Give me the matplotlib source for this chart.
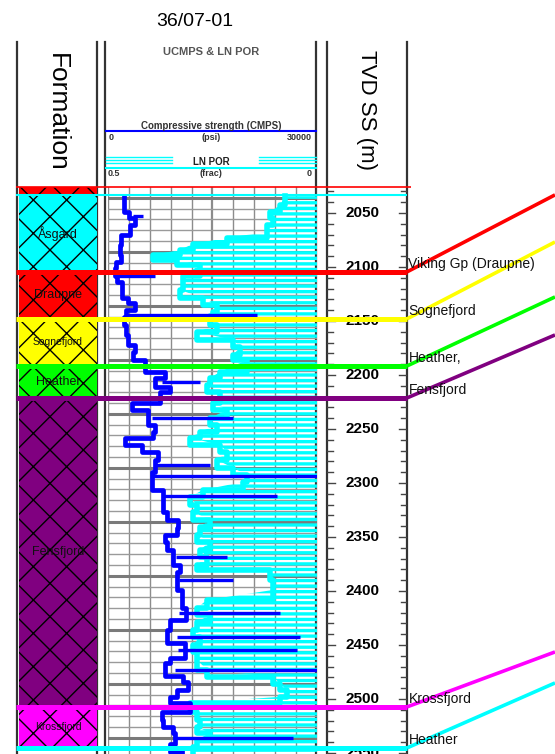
import numpy as np
import matplotlib.pyplot as plt

W, H = 555, 754
BODY_TOP = 187   # pixel row where the log body starts

# depth window of the log body (TVD SS, m)
depth_top = 2026.0
depth_base = 2551.0

# formation column
form_names = ['', 'Åsgard', 'Draupne', 'Sognefjord', 'Heather', 'Fensfjord', 'Krossfjord']
form_tops = [2025.9, 2033.3, 2104.6, 2148.1, 2191.7, 2221.3, 2507.4]
form_bases = [2033.3, 2104.6, 2148.1, 2191.7, 2221.3, 2507.4, 2545.4]
form_colors = ['#ff0000', '#00ffff', '#ff0000', '#ffff00', '#00ff00', '#800080', '#ff00ff']

# picked tops and where they tie in on the next well
top_names = ['Viking Gp (Draupne)', 'Sognefjord', 'Heather,', 'Fensfjord', 'Krossfjord', 'Heather']
top_depths = [2104.6, 2148.1, 2191.7, 2221.3, 2507.4, 2545.4]
top_next = [2033.3, 2076.9, 2127.8, 2163.0, 2456.5, 2485.2]
top_colors = ['#ff0000', '#ffff00', '#00ff00', '#800080', '#ff00ff', '#00ffff']

# UCMPS curve (psi)
ucmps_depth = [2034.5, 2042.6, 2049.1, 2055.0, 2061.1, 2070.4, 2079.6, 2088.9, 2095.4, 2101.0,
               2108.3, 2113.9, 2121.3, 2128.7, 2133.3, 2139.8, 2146.0, 2153.7, 2163.0, 2172.2,
               2178.7, 2186.1, 2197.2, 2202.8, 2211.1, 2215.7, 2225.9, 2232.4, 2246.3, 2252.8,
               2258.3, 2264.8, 2271.3, 2278.7, 2289.8, 2299.1, 2306.5, 2320.4, 2326.9, 2334.3,
               2341.7, 2348.1, 2354.6, 2362.0, 2375.9, 2382.4, 2399.1, 2408.3, 2415.7, 2426.9,
               2431.5, 2436.1, 2448.1, 2462.0, 2466.7, 2478.7, 2484.3, 2491.7, 2498.1, 2503.7,
               2512.0, 2519.4, 2525.9, 2531.5, 2541.7, 2549.1]
ucmps = [2300, 2300, 3000, 3900, 3150, 1900, 1700, 1900, 1150, 1000,
         1300, 2000, 2000, 2900, 3900, 2600, 2300, 2600, 2900, 3900,
         3600, 5300, 8200, 6750, 8900, 7500, 3450, 5750, 6750, 6450,
         2450, 4900, 7200, 6750, 6300, 6300, 7900, 7900, 8450, 10050,
         9900, 8200, 8450, 9300, 10350, 9900, 10600, 10600, 11200, 8900,
         8900, 8450, 11050, 8900, 8200, 10750, 11500, 9900, 8900, 11750,
         7750, 7900, 9300, 9600, 8900, 10600]
# single-sample UCMPS spikes
spike_depth = [2052.8, 2108.3, 2144.4, 2206.5, 2239.8, 2283.3, 2293.5, 2312.0,
               2368.5, 2389.8, 2420.4, 2442.6, 2454.6, 2473.1, 2536.1]
spike_psi = [5000, 6750, 21400, 13200, 17900, 14650, 30000, 24250,
             17100, 17950, 24700, 27550, 27100, 30000, 26550]

# LN POR curve (frac)
por_depth = [2034.5, 2042.6, 2049.1, 2054.6, 2061.1, 2067.6, 2073.1, 2078.7, 2084.3, 2088.9,
             2093.5, 2098.1, 2108.3, 2113.9, 2121.3, 2128.7, 2135.2, 2141.7, 2145.4, 2153.7,
             2160.2, 2167.6, 2174.1, 2181.5, 2186.1, 2197.2, 2202.8, 2209.3, 2215.7, 2225.9,
             2232.4, 2239.8, 2246.3, 2252.8, 2258.3, 2264.8, 2271.3, 2278.7, 2286.1, 2292.6,
             2299.1, 2306.5, 2313.0, 2320.4, 2326.9, 2334.3, 2340.7, 2348.1, 2354.6, 2362.0,
             2368.5, 2375.9, 2380.6, 2389.8, 2399.1, 2408.3, 2415.7, 2422.2, 2428.7, 2436.1,
             2442.6, 2450.0, 2456.5, 2463.9, 2473.1, 2479.6, 2486.1, 2491.7, 2498.1, 2503.7,
             2512.0, 2519.4, 2525.9, 2531.5, 2537.8, 2544.4, 2549.1]
por = [0.077, 0.088, 0.112, 0.105, 0.120, 0.120, 0.215, 0.297, 0.328, 0.392,
       0.335, 0.280, 0.320, 0.320, 0.328, 0.273, 0.239, 0.249, 0.256, 0.239,
       0.287, 0.201, 0.184, 0.201, 0.167, 0.232, 0.256, 0.263, 0.232, 0.249,
       0.215, 0.256, 0.239, 0.280, 0.304, 0.232, 0.215, 0.239, 0.201, 0.167,
       0.177, 0.273, 0.304, 0.287, 0.297, 0.256, 0.280, 0.287, 0.256, 0.280,
       0.263, 0.287, 0.112, 0.105, 0.105, 0.263, 0.287, 0.256, 0.287, 0.297,
       0.280, 0.297, 0.287, 0.287, 0.263, 0.105, 0.088, 0.072, 0.088, 0.304,
       0.287, 0.280, 0.287, 0.256, 0.287, 0.297, 0.297]

tvd_labels = [2050, 2100, 2150, 2200, 2250, 2300, 2350, 2400, 2450, 2500, 2550]

narrow = ['Liberation Sans Narrow', 'Liberation Sans', 'DejaVu Sans']
plt.rcParams['font.family'] = ['Liberation Sans', 'DejaVu Sans']

fig = plt.figure(figsize=(W / 100, H / 100), dpi=100)


def px_axes(x0, x1, y0, y1, z=1):
    a = fig.add_axes([x0 / W, 1 - y1 / H, (x1 - x0) / W, (y1 - y0) / H])
    a.set_zorder(z)
    return a


def body_axes(x0, x1, z=1):
    a = px_axes(x0, x1, BODY_TOP, H, z)
    a.set_ylim(depth_base, depth_top)
    a.set_xlim(0, 1)
    a.axis('off')
    return a


# header / frame in pixel space
hdr = px_axes(0, W, 0, H, 0)
hdr.set_xlim(0, W)
hdr.set_ylim(H, 0)
hdr.axis('off')
for x in [17, 97, 105, 316, 327, 407]:
    hdr.plot([x, x], [42, H], color='#333333', lw=1.6)

hdr.text(195, 21, '36/07-01', ha='center', va='center', fontsize=14, family=narrow)
hdr.text(57, 112, 'Formation', rotation=270, ha='center', va='center', fontsize=19, family=narrow)
hdr.text(367, 110, 'TVD SS (m)', rotation=270, ha='center', va='center', fontsize=16, family=narrow)
hdr.text(211, 52, 'UCMPS & LN POR', ha='center', va='center', fontsize=8, weight='bold',
         color='#555555')
hdr.text(211, 126, 'Compressive strength (CMPS)', ha='center', va='center', fontsize=7,
         weight='bold', color='#333333')
hdr.plot([106, 316], [131, 131], color='#0000ff', lw=1.5)
hdr.text(109, 137, '0', ha='left', va='center', fontsize=6.5, weight='bold', color='#333333')
hdr.text(211, 137, '(psi)', ha='center', va='center', fontsize=6.5, weight='bold', color='#333333')
hdr.text(312, 137, '30000', ha='right', va='center', fontsize=6.5, weight='bold', color='#333333')
for yy in [157, 160, 163]:
    hdr.plot([106, 172], [yy, yy], color='#00ffff', lw=1)
    hdr.plot([259, 316], [yy, yy], color='#00ffff', lw=1)
hdr.text(211, 162, 'LN POR', ha='center', va='center', fontsize=7, weight='bold', color='#222222')
hdr.plot([106, 316], [168, 168], color='#00ffff', lw=1.5)
hdr.text(108, 174, '0.5', ha='left', va='center', fontsize=6.5, weight='bold', color='#333333')
hdr.text(211, 174, '(frac)', ha='center', va='center', fontsize=6.5, weight='bold', color='#333333')
hdr.text(312, 174, '0', ha='right', va='center', fontsize=6.5, weight='bold', color='#333333')

# formation column
ax_form = body_axes(19, 97, 2)
for name, t, b, c in zip(form_names, form_tops, form_bases, form_colors):
    ax_form.fill_between([0, 1], t, b, facecolor=c, edgecolor='black', hatch='x', lw=0)
    if name:
        fs = 7.5 if len(name) > 9 else 9
        ax_form.text(0.5, (t + b) / 2, name, ha='center', va='center', fontsize=fs,
                     color='#111111', family=narrow)

# log track: porosity axis underneath (grid + cyan), UCMPS on top
ax_por = px_axes(108, 317, BODY_TOP, H, 2)
ax_por.set_xlim(0.5, 0)
ax_por.set_ylim(depth_base, depth_top)
ax_por.axis('off')
for p in np.arange(0, 0.5001, 0.05):
    ax_por.axvline(p, color='#8c8c8c', lw=1.6 if abs(p - 0.25) < 1e-6 else 1.0, zorder=0)
for d in np.arange(2036, 2551, 10):
    dark = (d - 2036) % 50 == 0
    ax_por.axhline(d, color='#7a7a7a' if dark else '#9a9a9a', lw=2.2 if dark else 1.0, zorder=0)

with plt.rc_context({'hatch.linewidth': 2.4}):
    fill = ax_por.fill_betweenx(por_depth, por, 0, facecolor='none', edgecolor='#00ffff',
                                hatch='---', lw=0, zorder=1)
if hasattr(fill, 'set_hatch_linewidth'):
    fill.set_hatch_linewidth(2.4)
ax_por.plot(por, por_depth, color='#00ffff', lw=4, drawstyle='steps-pre', zorder=2)

ax_log = px_axes(108, 317, BODY_TOP, H, 3)
ax_log.set_xlim(0, 30000)
ax_log.set_ylim(depth_base, depth_top)
ax_log.axis('off')
ax_log.plot(ucmps, ucmps_depth, color='#0000ff', lw=3.4, drawstyle='steps-pre')
base = np.interp(spike_depth, ucmps_depth, ucmps)
ax_log.hlines(spike_depth, base, spike_psi, color='#0000ff', lw=2.4)

# depth column
ax_tvd = body_axes(327, 407, 2)
for d in range(2030, 2551, 10):
    ln = 0.1 if d % 50 == 0 else 0.07
    ax_tvd.plot([0, ln], [d, d], color='#444444', lw=1)
    ax_tvd.plot([1 - ln, 1], [d, d], color='#444444', lw=1)
for d in tvd_labels:
    ax_tvd.text(0.45, d, str(d), ha='center', va='center', fontsize=11, weight='bold',
                clip_on=True)

# formation tops across the panel
ax_tops = body_axes(16, 407, 5)
ax_tops.hlines(form_tops[0], 0, 1.01, color='#ff0000', lw=1.2, clip_on=False)
ax_tops.hlines(form_tops[1], 0, 1, color='#00ffff', lw=1.5)
for d, c in zip(top_depths, top_colors):
    ax_tops.hlines(d, 0, 1, color=c, lw=3.6, clip_on=False)

# correlation lines to the next well
ax_corr = body_axes(407, W, 5)
for name, d, dn, c in zip(top_names, top_depths, top_next, top_colors):
    ax_corr.plot([0, 1], [d, dn], color=c, lw=2.6, clip_on=False, solid_capstyle='butt')
    ax_corr.text(0.01, d - 0.5, name, ha='left', va='bottom', fontsize=10, color='#111111',
                 clip_on=False)

fig.savefig('out.png', dpi=100)
